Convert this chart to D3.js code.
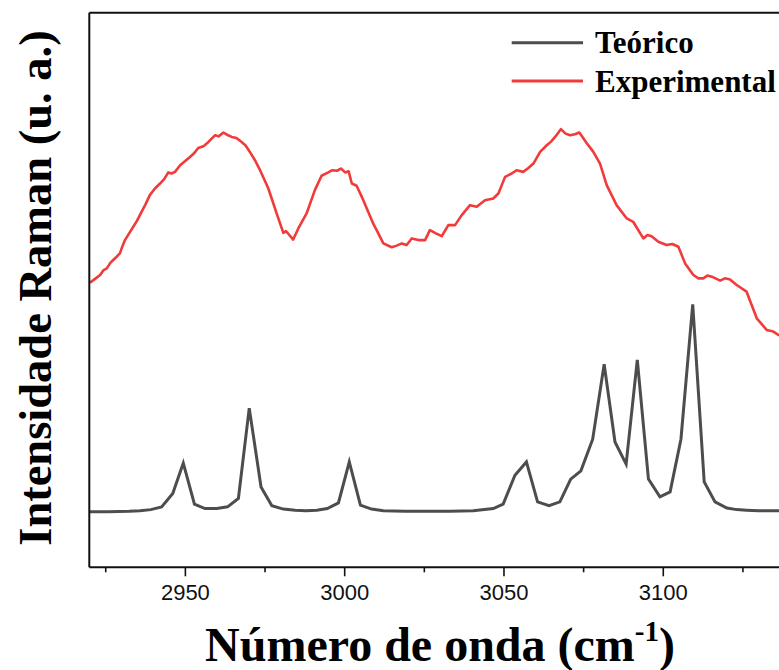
<!DOCTYPE html>
<html>
<head>
<meta charset="utf-8">
<script src="https://cdn.jsdelivr.net/npm/d3@7"></script>
<style>
  html, body { margin: 0; padding: 0; background: #fff; }
  svg { display: block; }
</style>
</head>
<body>
<svg id="chart" width="779" height="670"></svg>
<script>
// Theoretical spectrum: wavenumber (cm-1) and intensity (a.u.)
const teoricoX = [2920.2, 2925.9, 2932.5, 2935.9, 2939.3, 2942.7, 2946.2, 2949.5, 2953.0, 2956.3,
  2960.0, 2963.4, 2966.8, 2970.2, 2973.9, 2977.3, 2980.9, 2984.6, 2988.0, 2991.4,
  2994.7, 2998.2, 3001.6, 3005.1, 3008.6, 3012.3, 3019.0, 3026.0, 3033.0, 3040.5,
  3046.8, 3049.9, 3053.6, 3057.2, 3060.7, 3064.3, 3067.7, 3071.1, 3074.3, 3078.0,
  3081.6, 3085.0, 3088.5, 3092.0, 3095.5, 3099.1, 3102.3, 3105.7, 3109.4, 3113.0,
  3116.4, 3120.1, 3123.2, 3126.3, 3130.0, 3136.5, 3140.0];
const teoricoY = [10.0, 10.0, 10.1, 10.2, 10.4, 10.9, 13.3, 18.8, 11.4, 10.6,
  10.6, 10.9, 12.4, 28.7, 14.5, 11.1, 10.5, 10.3, 10.2, 10.3,
  10.6, 11.6, 19.0, 11.2, 10.5, 10.2, 10.1, 10.1, 10.1, 10.2,
  10.6, 11.4, 16.6, 19.0, 11.8, 11.1, 11.8, 15.9, 17.4, 23.1,
  36.6, 22.6, 18.6, 37.4, 15.9, 12.7, 13.6, 23.1, 47.4, 15.4,
  11.8, 10.7, 10.4, 10.3, 10.2, 10.2, 10.2];

// Experimental spectrum
const experimentalX = [2920.2, 2921.8, 2923.4, 2924.5, 2925.5, 2926.6, 2927.5, 2928.6, 2929.6, 2930.4,
  2931.2, 2932.6, 2933.8, 2935.0, 2936.4, 2937.6, 2939.0, 2940.6, 2942.2, 2943.5,
  2944.8, 2945.8, 2946.9, 2948.5, 2950.0, 2951.6, 2952.8, 2954.2, 2955.8, 2957.4,
  2958.4, 2959.5, 2960.6, 2962.1, 2963.2, 2964.7, 2966.2, 2967.8, 2969.0, 2970.4,
  2972.0, 2973.6, 2976.2, 2978.8, 2980.9, 2981.7, 2982.5, 2984.0, 2985.6, 2988.2,
  2990.8, 2992.9, 2995.0, 2996.3, 2997.7, 2999.0, 3000.3, 3001.4, 3002.4, 3003.9,
  3006.0, 3009.1, 3012.3, 3014.9, 3016.5, 3018.1, 3019.6, 3021.2, 3023.3, 3025.4,
  3026.9, 3028.8, 3030.6, 3032.7, 3034.8, 3036.9, 3039.5, 3041.6, 3044.2, 3046.8,
  3048.4, 3050.5, 3052.6, 3054.1, 3056.2, 3057.8, 3059.4, 3061.5, 3063.6, 3065.0,
  3066.2, 3068.0, 3069.5, 3070.9, 3072.4, 3073.8, 3076.1, 3078.2, 3080.3, 3082.4,
  3085.5, 3088.7, 3090.7, 3093.9, 3095.2, 3096.5, 3098.6, 3101.2, 3103.0, 3104.9,
  3107.0, 3109.6, 3111.2, 3112.7, 3114.0, 3115.4, 3118.0, 3119.5, 3121.1, 3123.2,
  3126.3, 3129.5, 3132.6, 3134.7, 3136.3, 3140.0];
const experimentalY = [51.3, 52.0, 52.7, 53.6, 53.9, 54.9, 55.4, 56.0, 56.6, 57.9,
  59.0, 60.3, 61.4, 62.5, 64.1, 65.4, 67.1, 68.3, 69.2, 70.0,
  71.2, 71.0, 71.3, 72.5, 73.2, 74.0, 74.6, 75.6, 75.9, 76.7,
  77.3, 77.9, 77.7, 78.4, 78.0, 77.6, 77.4, 76.7, 76.1, 74.9,
  73.4, 71.6, 68.3, 63.8, 60.3, 60.6, 60.1, 59.1, 61.1, 63.8,
  68.0, 70.6, 71.2, 71.6, 71.5, 71.9, 71.2, 71.4, 69.2, 68.8,
  66.2, 62.0, 58.4, 57.7, 58.0, 58.4, 58.1, 59.3, 59.0, 59.0,
  60.8, 60.2, 59.7, 61.7, 61.7, 63.5, 65.3, 65.0, 66.2, 66.5,
  67.4, 70.4, 71.0, 71.6, 71.3, 72.0, 72.8, 74.9, 76.1, 76.8,
  77.6, 79.0, 78.2, 77.9, 78.1, 78.4, 76.5, 74.9, 72.8, 68.9,
  65.3, 62.9, 62.3, 59.3, 59.9, 59.7, 58.7, 58.1, 58.3, 57.8,
  54.8, 52.7, 52.1, 52.1, 52.6, 52.4, 51.7, 52.1, 51.9, 50.9,
  49.7, 44.9, 42.8, 42.5, 41.9, 41.3];

const xMajorTicks = [2950, 3000, 3050, 3100];
const xMinorTicks = [2925, 2975, 3025, 3075, 3125];
const seriesNames = ["Teórico", "Experimental"];
const seriesColors = ["#4d4d4d", "#f23a3a"];

const svg = d3.select("#chart");
const plotLeft = 89.3, plotTop = 12.7, plotBottom = 567.3;

const x = d3.scaleLinear().domain([2920, 3140]).range([plotLeft, plotLeft + 220 * 3.186]);
const y = d3.scaleLinear().domain([0, 100]).range([plotBottom, plotTop]);

svg.append("defs").append("clipPath").attr("id", "plotClip")
  .append("rect").attr("x", plotLeft).attr("y", plotTop)
  .attr("width", x(3140) - plotLeft).attr("height", plotBottom - plotTop);

const line = d3.line().x(d => x(d[0])).y(d => y(d[1]));

const teorico = d3.zip(teoricoX, teoricoY);
const experimental = d3.zip(experimentalX, experimentalY);

const plot = svg.append("g").attr("clip-path", "url(#plotClip)");
plot.append("path").datum(teorico)
  .attr("d", line).attr("fill", "none")
  .attr("stroke", seriesColors[0]).attr("stroke-width", 3)
  .attr("stroke-linejoin", "miter");
plot.append("path").datum(experimental)
  .attr("d", line).attr("fill", "none")
  .attr("stroke", seriesColors[1]).attr("stroke-width", 2.6)
  .attr("stroke-linejoin", "round");

// Frame: left and top edges
svg.append("line").attr("x1", plotLeft).attr("x2", plotLeft).attr("y1", plotTop).attr("y2", plotBottom)
  .attr("stroke", "#111").attr("stroke-width", 2);
svg.append("line").attr("x1", plotLeft).attr("x2", 800).attr("y1", plotTop).attr("y2", plotTop)
  .attr("stroke", "#111").attr("stroke-width", 2);

// Bottom axis with major (labelled) and minor ticks
const axisMajor = d3.axisBottom(x).tickValues(xMajorTicks).tickSize(9).tickPadding(8)
  .tickFormat(d3.format("d"));
const gAxis = svg.append("g").attr("transform", `translate(0,${plotBottom})`).call(axisMajor);
gAxis.select(".domain").attr("stroke", "#111").attr("stroke-width", 2)
  .attr("d", `M${plotLeft},0H800`);
gAxis.selectAll(".tick line").attr("stroke", "#111").attr("stroke-width", 1.6);
gAxis.selectAll(".tick text")
  .attr("font-family", "Liberation Sans, Arial, sans-serif")
  .attr("font-size", 22).attr("fill", "#111");

const axisMinor = d3.axisBottom(x).tickValues(xMinorTicks).tickSize(5).tickFormat("");
const gMinor = svg.append("g").attr("transform", `translate(0,${plotBottom})`).call(axisMinor);
gMinor.select(".domain").remove();
gMinor.selectAll(".tick line").attr("stroke", "#111").attr("stroke-width", 1.6);

// Axis titles
const xTitle = svg.append("text")
  .attr("x", 440).attr("y", 661)
  .attr("text-anchor", "middle")
  .attr("font-family", "Liberation Serif, Times New Roman, serif")
  .attr("font-weight", "bold").attr("font-size", 48).attr("fill", "#000");
xTitle.append("tspan").text("Número de onda (cm");
xTitle.append("tspan").attr("font-size", 29).attr("dy", -20).text("-1");
xTitle.append("tspan").attr("dy", 20).text(")");

svg.append("text")
  .attr("transform", "translate(51,288) rotate(-90)")
  .attr("text-anchor", "middle")
  .attr("font-family", "Liberation Serif, Times New Roman, serif")
  .attr("font-weight", "bold").attr("font-size", 46.5).attr("fill", "#000")
  .text("Intensidade Raman (u. a.)");

// Legend
const legend = svg.append("g");
const legendY = [42.7, 81];
seriesNames.forEach((name, i) => {
  legend.append("line")
    .attr("x1", 511.7).attr("x2", 583)
    .attr("y1", legendY[i]).attr("y2", legendY[i])
    .attr("stroke", seriesColors[i]).attr("stroke-width", 3);
  legend.append("text")
    .attr("x", 595).attr("y", legendY[i] + 10.5)
    .attr("font-family", "Liberation Serif, Times New Roman, serif")
    .attr("font-weight", "bold").attr("font-size", 31).attr("fill", "#000")
    .text(name);
});
</script>
</body>
</html>
